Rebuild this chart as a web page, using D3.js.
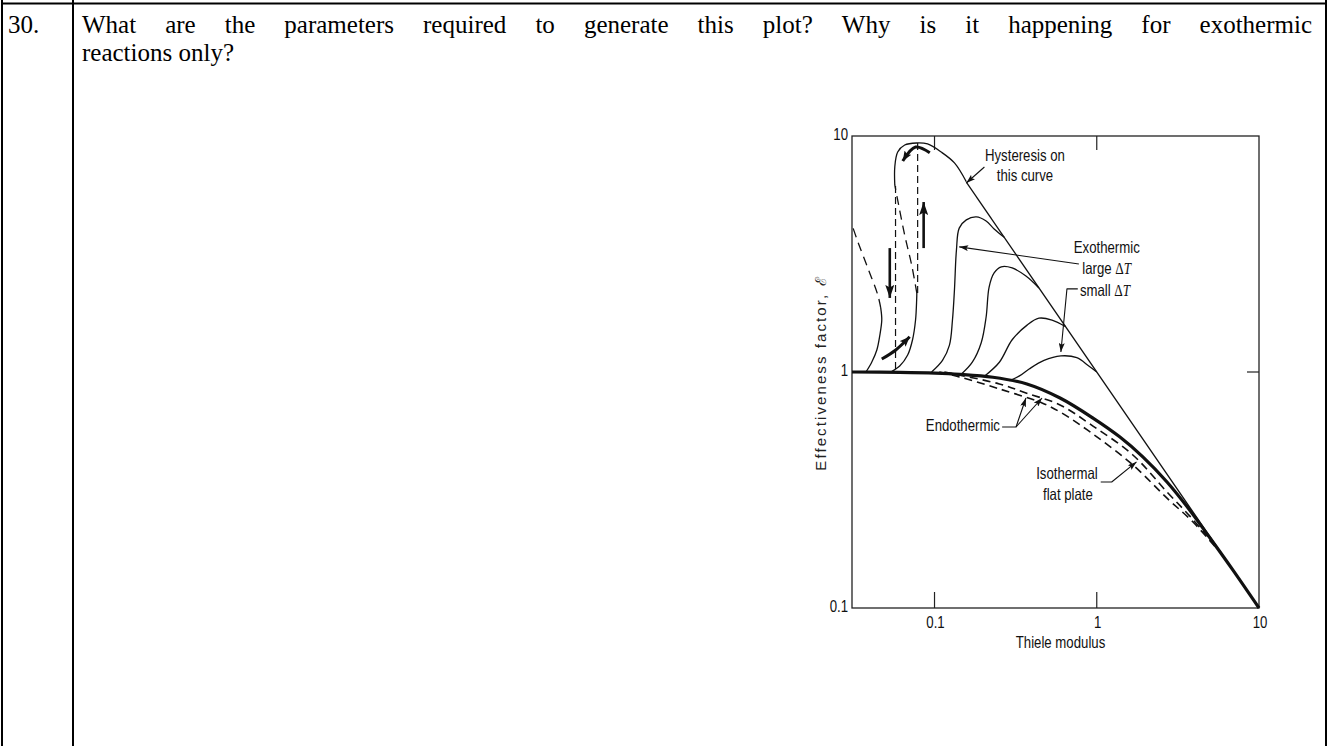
<!DOCTYPE html>
<html>
<head>
<meta charset="utf-8">
<script src="https://cdn.jsdelivr.net/npm/d3@7"></script>
<style>
  html, body { margin: 0; padding: 0; background: #fff; }
  svg { display: block; }
</style>
</head>
<body>
<script>
// ── Question text ──
const QUESTION_NO = '30.';
const QUESTION_LINES = [
  'What are the parameters required to generate this plot? Why is it happening for exothermic',
  'reactions only?',
];

// ── Axes: Thiele modulus (x) × effectiveness factor (y), both log ──
const X_TICKS = [0.1, 1, 10];
const X_TICK_LABELS = ['0.1', '1', '10'];
const Y_TICKS = [0.1, 1, 10];
const Y_TICK_LABELS = ['0.1', '1', '10'];

// ── Curves, [φ, ℰ] ──
const ISOTHERMAL = [[0.031, 1.0], [0.061, 0.997], [0.1007, 0.99], [0.1435, 0.978], [0.229, 0.95],
  [0.371, 0.89], [0.594, 0.776], [0.948, 0.638], [1.39, 0.530], [1.93, 0.436], [2.71, 0.342],
  [3.60, 0.269], [4.99, 0.198], [6.91, 0.1447], [10, 0.1]];

const ENDO_1 = [[0.115, 1.0], [0.142, 0.971], [0.251, 0.89], [0.366, 0.815], [0.594, 0.725],
  [0.948, 0.59], [1.67, 0.445], [2.71, 0.31], [3.75, 0.245], [5.28, 0.1867]];
const ENDO_2 = [[0.107, 1.0], [0.142, 0.953], [0.251, 0.848], [0.46, 0.739], [0.594, 0.677],
  [0.948, 0.546], [1.67, 0.404], [2.71, 0.292], [3.92, 0.2314], [5.59, 0.176]];

const ASYMPTOTE = [[0.157, 6.37], [10, 0.1]];

const EXO_1_STABLE   = [[0.0378, 1.0], [0.041, 1.10], [0.0441, 1.24], [0.046, 1.43], [0.0473, 1.66], [0.0466, 1.87]];
const EXO_1_UNSTABLE = [[0.0466, 1.87], [0.0447, 2.12], [0.0388, 2.76], [0.0337, 3.56], [0.031, 4.2]];

const EXO_2_LOWER    = [[0.0537, 1.0], [0.061, 1.06], [0.0683, 1.18], [0.0732, 1.37], [0.0764, 1.66], [0.0776, 2.02], [0.0778, 2.16]];
const EXO_2_UNSTABLE = [[0.0778, 2.16], [0.0723, 2.84], [0.0655, 3.8], [0.0601, 5.1], [0.0569, 6.2]];
const EXO_2_UPPER    = [[0.0569, 6.2], [0.0569, 7.39], [0.0593, 8.55], [0.0655, 9.16], [0.0776, 9.34],
  [0.0906, 9.25], [0.110, 8.55], [0.1327, 7.69], [0.157, 6.4]];
const JUMP_UP   = [[0.0787, 2.16], [0.0787, 9.34]];
const JUMP_DOWN = [[0.0575, 1.03], [0.0575, 6.2]];

const EXO_3 = [[0.0959, 1.0], [0.112, 1.12], [0.1236, 1.30], [0.129, 1.66], [0.1327, 2.23], [0.1365, 3.29],
  [0.142, 4.07], [0.157, 4.41], [0.181, 4.54], [0.208, 4.36], [0.233, 4.04], [0.269, 3.72]];
const EXO_4 = [[0.1466, 0.98], [0.171, 1.10], [0.194, 1.33], [0.208, 1.71], [0.217, 2.29], [0.233, 2.63],
  [0.258, 2.79], [0.301, 2.76], [0.366, 2.55], [0.44, 2.27]];
const EXO_5 = [[0.203, 0.96], [0.251, 1.10], [0.301, 1.37], [0.372, 1.58], [0.44, 1.69], [0.53, 1.66], [0.64, 1.56]];
const EXO_6 = [[0.288, 0.918], [0.332, 0.96], [0.383, 1.03], [0.473, 1.12], [0.601, 1.17], [0.753, 1.15],
  [0.893, 1.06], [1.0, 1.0]];

// ── Hysteresis arrows ──
const ARROW_DOWN = [[0.053, 3.35], [0.053, 2.06]];
const ARROW_UP   = [[0.0857, 3.35], [0.0857, 5.25]];
const CURVED_ARROW_LOW = [[0.0473, 1.135], [0.0577, 1.24], [0.0703, 1.41]];
const CURVED_ARROW_TOP = [[0.0935, 8.5], [0.0764, 8.98], [0.0637, 7.83]];

// ── Callouts ──
const LEADERS = [
  [[0.203, 7.39], [0.157, 6.32]],
  [[0.776, 2.87], [0.142, 3.39]],
  [[0.764, 2.25], [0.655, 2.25], [0.601, 1.215]],
  [[0.261, 0.585], [0.318, 0.585], [0.366, 0.776]],
  [[0.318, 0.585], [0.46, 0.776]],
  [[1.058, 0.342], [1.236, 0.342], [1.758, 0.416]],
];
const LABELS = [
  { text: 'Hysteresis on', at: [0.361, 8.32], anchor: 'middle' },
  { text: 'this curve',    at: [0.361, 6.84], anchor: 'middle' },
  { text: 'Exothermic',    at: [1.152, 3.39], anchor: 'middle' },
  { text: 'large ',        at: [1.152, 2.76], anchor: 'middle', dT: true },
  { text: 'small ',        at: [0.787, 2.23], anchor: 'start',  dT: true },
  { text: 'Endothermic',   at: [0.253, 0.596], anchor: 'end' },
  { text: 'Isothermal',    at: [0.655, 0.373], anchor: 'middle' },
  { text: 'flat plate',    at: [0.664, 0.304], anchor: 'middle' },
];

// ── Layout ──
const W = 1328, H = 746;
const frame = { left: 852, right: 1259, top: 136, bottom: 608 };
const serif = '"Liberation Serif", "Times New Roman", serif';
const sans  = '"Liberation Sans", Arial, sans-serif';
const NARROW = 0.8;   // figure lettering is a condensed sans

const svg = d3.select('body').append('svg').attr('width', W).attr('height', H);

// Table rules
const rules = svg.append('g').attr('stroke', '#000').attr('stroke-width', 2);
rules.append('line').attr('x1', 1).attr('x2', 1327).attr('y1', 3.5).attr('y2', 3.5);
[2, 73, 1326].forEach(x => rules.append('line').attr('x1', x).attr('x2', x).attr('y1', 0).attr('y2', H));

// Question
const qSize = 25;
svg.append('text').attr('x', 8).attr('y', 33)
  .attr('font-family', serif).attr('font-size', qSize).text(QUESTION_NO);

// first line is justified across the cell
const lineLeft = 82, lineRight = 1312;
const words = QUESTION_LINES[0].split(' ');
const probe = svg.append('text').attr('font-family', serif).attr('font-size', qSize);
const widths = words.map(w => { probe.text(w); return probe.node().getComputedTextLength(); });
probe.remove();
const gap = (lineRight - lineLeft - d3.sum(widths)) / (words.length - 1);
const q1 = svg.append('text').attr('y', 33).attr('font-family', serif).attr('font-size', qSize);
let cx = lineLeft;
words.forEach((w, i) => { q1.append('tspan').attr('x', cx).text(w); cx += widths[i] + gap; });
svg.append('text').attr('x', lineLeft).attr('y', 61)
  .attr('font-family', serif).attr('font-size', qSize).text(QUESTION_LINES[1]);

// ── Chart ──
const x = d3.scaleLog().domain([0.031, 10]).range([frame.left, frame.right]);
const y = d3.scaleLog().domain([0.1, 10]).range([frame.bottom, frame.top]);

const defs = svg.append('defs');
function marker(id, len, wid) {
  defs.append('marker').attr('id', id)
    .attr('markerUnits', 'userSpaceOnUse')
    .attr('viewBox', `0 0 ${len} ${wid}`)
    .attr('refX', len).attr('refY', wid / 2)
    .attr('markerWidth', len).attr('markerHeight', wid)
    .attr('orient', 'auto')
    .append('path').attr('d', `M0,0L${len},${wid / 2}L0,${wid}L${len * 0.2},${wid / 2}Z`).attr('fill', '#111');
}
marker('head-s', 9, 6);
marker('head-b', 13, 9);
marker('head-c', 10, 8);

const chart = svg.append('g');
const smooth = d3.line().x(d => x(d[0])).y(d => y(d[1])).curve(d3.curveCatmullRom.alpha(0.5));
const straight = d3.line().x(d => x(d[0])).y(d => y(d[1]));

function draw(data, gen, width, dash, head) {
  const p = chart.append('path').datum(data).attr('d', gen)
    .attr('fill', 'none').attr('stroke', '#111').attr('stroke-width', width)
    .attr('stroke-linecap', 'butt').attr('stroke-linejoin', 'round');
  if (dash) p.attr('stroke-dasharray', dash);
  if (head) p.attr('marker-end', `url(#${head})`);
  return p;
}

// condensed label: plain sans squeezed horizontally
function label(px, py, anchor, size) {
  return chart.append('text')
    .attr('transform', `translate(${px},${py}) scale(${NARROW},1)`)
    .attr('dy', '0.35em').attr('text-anchor', anchor)
    .attr('font-family', sans).attr('font-size', size).attr('fill', '#111')
    .attr('xml:space', 'preserve');
}

// frame + ticks
chart.append('rect')
  .attr('x', frame.left).attr('y', frame.top)
  .attr('width', frame.right - frame.left).attr('height', frame.bottom - frame.top)
  .attr('fill', 'none').attr('stroke', '#222').attr('stroke-width', 1.3);

const tickG = chart.append('g').attr('stroke', '#222').attr('stroke-width', 1.2);
X_TICKS.filter(t => t < 10).forEach(t => {
  tickG.append('line').attr('x1', x(t)).attr('x2', x(t)).attr('y1', frame.top).attr('y2', frame.top + 14);
  tickG.append('line').attr('x1', x(t)).attr('x2', x(t)).attr('y1', frame.bottom).attr('y2', frame.bottom - 16);
});
tickG.append('line').attr('x1', frame.right).attr('x2', frame.right - 12).attr('y1', y(1)).attr('y2', y(1));

const fs = 16.5;
X_TICKS.forEach((t, i) => label(x(t) + 1, frame.bottom + 14, 'middle', fs).text(X_TICK_LABELS[i]));
Y_TICKS.forEach((t, i) => label(frame.left - 4, y(t) - 2, 'end', fs).text(Y_TICK_LABELS[i]));
label((frame.left + frame.right) / 2 + 5, frame.bottom + 34, 'middle', fs).text('Thiele modulus');

chart.append('text')
  .attr('transform', `translate(${frame.left - 31},${(frame.top + frame.bottom) / 2 + 1}) rotate(-90)`)
  .attr('dy', '0.35em').attr('text-anchor', 'middle')
  .attr('font-family', sans).attr('font-size', 15)
  .attr('letter-spacing', 2.1).attr('fill', '#222')
  .text('Effectiveness factor, ℰ');

// curves
draw(ISOTHERMAL, smooth, 3.2);
draw(ENDO_1, smooth, 1.6, '8,5');
draw(ENDO_2, smooth, 1.6, '8,5');
draw(ASYMPTOTE, straight, 1.3);

draw(EXO_1_STABLE, smooth, 1.3);
draw(EXO_1_UNSTABLE, smooth, 1.3, '9,6');
draw(EXO_2_LOWER, smooth, 1.3);
draw(EXO_2_UNSTABLE, smooth, 1.3, '9,6');
draw(EXO_2_UPPER, smooth, 1.3);
draw(JUMP_UP, straight, 1.2, '7,4');
draw(JUMP_DOWN, straight, 1.2, '7,4');
[EXO_3, EXO_4, EXO_5, EXO_6].forEach(c => draw(c, smooth, 1.3));

// hysteresis arrows
draw(ARROW_DOWN, straight, 2.6, null, 'head-b');
draw(ARROW_UP, straight, 2.6, null, 'head-b');
draw(CURVED_ARROW_LOW, smooth, 3, null, 'head-c');
draw(CURVED_ARROW_TOP, smooth, 3, null, 'head-c');

// callouts
LEADERS.forEach(l => draw(l, straight, 1.1, null, 'head-s'));

LABELS.forEach(d => {
  const t = label(x(d.at[0]), y(d.at[1]), d.anchor, fs);
  t.append('tspan').text(d.text);
  if (d.dT) {
    t.append('tspan').attr('font-family', serif).text('Δ');
    t.append('tspan').attr('font-family', serif).attr('font-style', 'italic').text('T');
  }
});
</script>
</body>
</html>
